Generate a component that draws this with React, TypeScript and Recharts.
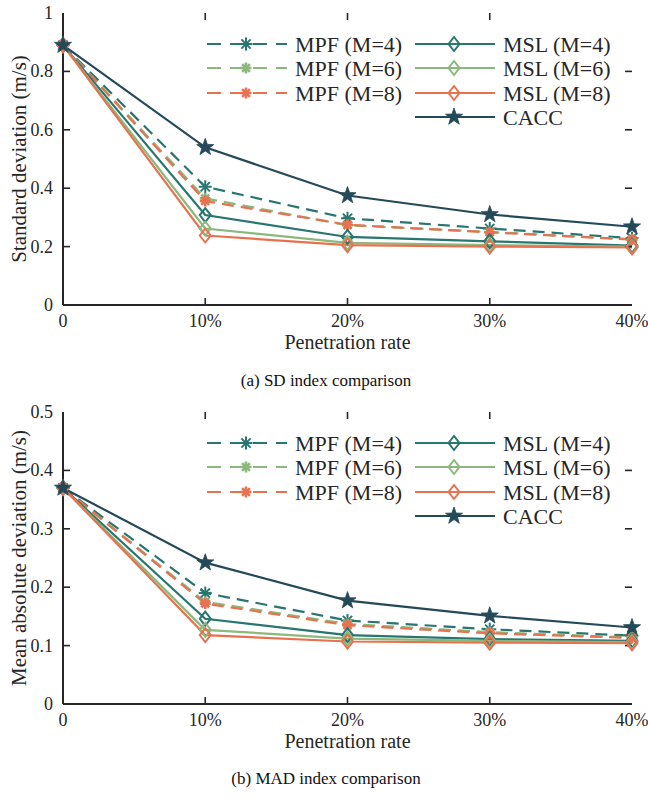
import React from 'react';
import { LineChart, Line, XAxis, YAxis, ReferenceDot } from 'recharts';

// penetration rate (%)
const rates = [0, 10, 20, 30, 40];

// (a) standard deviation, m/s
const sdMpf4 = [0.89, 0.405, 0.297, 0.262, 0.229];
const sdMpf6 = [0.89, 0.365, 0.273, 0.25, 0.225];
const sdMpf8 = [0.89, 0.356, 0.275, 0.249, 0.224];
const sdMsl4 = [0.89, 0.308, 0.233, 0.218, 0.203];
const sdMsl6 = [0.89, 0.262, 0.213, 0.205, 0.2];
const sdMsl8 = [0.89, 0.238, 0.205, 0.2, 0.197];
const sdCacc = [0.89, 0.54, 0.375, 0.31, 0.268];

// (b) mean absolute deviation, m/s
const madMpf4 = [0.37, 0.19, 0.143, 0.128, 0.117];
const madMpf6 = [0.37, 0.175, 0.137, 0.123, 0.114];
const madMpf8 = [0.37, 0.172, 0.135, 0.121, 0.113];
const madMsl4 = [0.37, 0.146, 0.118, 0.111, 0.108];
const madMsl6 = [0.37, 0.127, 0.112, 0.108, 0.106];
const madMsl8 = [0.37, 0.118, 0.107, 0.105, 0.104];
const madCacc = [0.37, 0.242, 0.177, 0.151, 0.131];

const sdTicks = [0, 0.2, 0.4, 0.6, 0.8, 1];
const madTicks = [0, 0.1, 0.2, 0.3, 0.4, 0.5];

const TEAL = '#287670';
const GREEN = '#8bb87d';
const ORANGE = '#e8714f';
const NAVY = '#244a5a';
const INK = '#262626';
const SERIF = "'Liberation Serif', 'DejaVu Serif', serif";
const TICK_LEN = 7;

type MarkerKind = 'asterisk' | 'asteriskBold' | 'diamond' | 'star';

const series: { key: string; name: string; color: string; dashed: boolean; marker: MarkerKind }[] = [
  { key: 'mpf4', name: 'MPF (M=4)', color: TEAL, dashed: true, marker: 'asterisk' },
  { key: 'mpf6', name: 'MPF (M=6)', color: GREEN, dashed: true, marker: 'asteriskBold' },
  { key: 'mpf8', name: 'MPF (M=8)', color: ORANGE, dashed: true, marker: 'asteriskBold' },
  { key: 'msl4', name: 'MSL (M=4)', color: TEAL, dashed: false, marker: 'diamond' },
  { key: 'msl6', name: 'MSL (M=6)', color: GREEN, dashed: false, marker: 'diamond' },
  { key: 'msl8', name: 'MSL (M=8)', color: ORANGE, dashed: false, marker: 'diamond' },
  { key: 'cacc', name: 'CACC', color: NAVY, dashed: false, marker: 'star' },
];

const sdData = rates.map((r, i) => ({
  rate: r, mpf4: sdMpf4[i], mpf6: sdMpf6[i], mpf8: sdMpf8[i],
  msl4: sdMsl4[i], msl6: sdMsl6[i], msl8: sdMsl8[i], cacc: sdCacc[i],
}));
const madData = rates.map((r, i) => ({
  rate: r, mpf4: madMpf4[i], mpf6: madMpf6[i], mpf8: madMpf8[i],
  msl4: madMsl4[i], msl6: madMsl6[i], msl8: madMsl8[i], cacc: madCacc[i],
}));

function marker(kind: MarkerKind, cx: number, cy: number, color: string, key?: string) {
  if (kind === 'asterisk' || kind === 'asteriskBold') {
    const r = kind === 'asterisk' ? 6.5 : 5.5;
    const d = r * 0.71;
    return (
      <g key={key} stroke={color} strokeWidth={kind === 'asterisk' ? 2 : 2.6}>
        <line x1={cx} y1={cy - r} x2={cx} y2={cy + r} />
        <line x1={cx - r} y1={cy} x2={cx + r} y2={cy} />
        <line x1={cx - d} y1={cy - d} x2={cx + d} y2={cy + d} />
        <line x1={cx - d} y1={cy + d} x2={cx + d} y2={cy - d} />
      </g>
    );
  }
  if (kind === 'diamond') {
    const pts = `${cx},${cy - 7} ${cx + 5.5},${cy} ${cx},${cy + 7} ${cx - 5.5},${cy}`;
    return <polygon key={key} points={pts} fill="none" stroke={color} strokeWidth={2} />;
  }
  const pts: string[] = [];
  for (let k = 0; k < 10; k++) {
    const rr = k % 2 === 0 ? 9 : 3.6;
    const a = -Math.PI / 2 + (k * Math.PI) / 5;
    pts.push(`${cx + rr * Math.cos(a)},${cy + rr * Math.sin(a)}`);
  }
  return <polygon key={key} points={pts.join(' ')} fill={color} stroke={color} strokeWidth={0.8} />;
}

function LegendBox({ top }: { top: number }) {
  const rowY = [14, 38, 63, 87];
  return (
    <svg width={430} height={104} style={{ position: 'absolute', left: 200, top }}>
      {series.map((s, i) => {
        const col = i < 3 ? 0 : 1;
        const row = i < 3 ? i : i - 3;
        const x0 = col === 0 ? 7 : 215;
        const y = rowY[row];
        return (
          <g key={s.key}>
            <line x1={x0} y1={y} x2={x0 + 80} y2={y} stroke={s.color} strokeWidth={2}
              strokeDasharray={s.dashed ? '14 9' : undefined} />
            {marker(s.marker, x0 + 39, y, s.color)}
            <text x={x0 + 88} y={y} dominantBaseline="central" style={{ fontFamily: SERIF, fontSize: 22 }} fill={INK}>
              {s.name}
            </text>
          </g>
        );
      })}
    </svg>
  );
}

const textStyle = { fontFamily: SERIF, fontSize: 18 };

const LeftTick = (p: any) => (
  <text x={p.x} y={p.y} textAnchor="end" dominantBaseline="central" fill={INK} style={textStyle}>
    {String(p.payload.value)}
  </text>
);
const BottomTick = (p: any) => (
  <text x={p.x} y={p.y} dy="0.75em" textAnchor="middle" fill={INK} style={textStyle}>
    {p.payload.value === 0 ? '0' : `${p.payload.value}%`}
  </text>
);

// inward tick mark, direction given as [dx, dy]
const tickMark = (dx: number, dy: number) => (p: any) => (
  <path d={`M${p.cx},${p.cy}l${dx * TICK_LEN},${dy * TICK_LEN}`} stroke={INK} strokeWidth={1.6} fill="none" />
);

function Panel({ data, ticks, ymax, ylabel }: { data: any[]; ticks: number[]; ymax: number; ylabel: string }) {
  const axisLine = { stroke: INK, strokeWidth: 2 };
  const xEnd = rates[rates.length - 1];
  return (
    <LineChart width={648} height={360} data={data} margin={{ top: 13, right: 16, left: 0, bottom: 0 }}
      style={{ fontFamily: SERIF }}>
      <XAxis dataKey="rate" type="number" domain={[0, xEnd]} ticks={rates}
        height={55} tickSize={0} tickMargin={8} tick={BottomTick} tickLine={false} axisLine={axisLine}
        label={{ value: 'Penetration rate', position: 'insideBottom', offset: 11, fill: INK, fontSize: 20, style: { fontFamily: SERIF } }} />
      <XAxis xAxisId="top" orientation="top" dataKey="rate" type="number" domain={[0, xEnd]} ticks={rates}
        allowDataOverflow height={0} tick={false} tickLine={false} axisLine={axisLine} />
      <YAxis type="number" domain={[0, ymax]} ticks={ticks} width={63}
        tickSize={0} tickMargin={10} tick={LeftTick} tickLine={false} axisLine={axisLine}
        label={{ value: ylabel, angle: -90, position: 'insideLeft', offset: 19, fill: INK, fontSize: 21, style: { textAnchor: 'middle', fontFamily: SERIF } }} />
      <YAxis yAxisId="right" orientation="right" type="number" domain={[0, ymax]} ticks={ticks}
        allowDataOverflow width={0} tick={false} tickLine={false} axisLine={axisLine} />
      {ticks.slice(1, -1).map((v) => (
        <ReferenceDot key={`l${v}`} x={0} y={v} r={0} ifOverflow="visible" shape={tickMark(1, 0)} />
      ))}
      {ticks.slice(1, -1).map((v) => (
        <ReferenceDot key={`r${v}`} x={xEnd} y={v} r={0} ifOverflow="visible" shape={tickMark(-1, 0)} />
      ))}
      {rates.slice(1, -1).map((r) => (
        <ReferenceDot key={`b${r}`} x={r} y={0} r={0} ifOverflow="visible" shape={tickMark(0, -1)} />
      ))}
      {rates.slice(1, -1).map((r) => (
        <ReferenceDot key={`t${r}`} x={r} y={ymax} r={0} ifOverflow="visible" shape={tickMark(0, 1)} />
      ))}
      {series.map((s) => (
        <Line key={s.key} dataKey={s.key} name={s.name} stroke={s.color} strokeWidth={2.2}
          strokeDasharray={s.dashed ? '12 7' : undefined} isAnimationActive={false} activeDot={false}
          dot={(p: any) => marker(s.marker, p.cx, p.cy, s.color, `${s.key}-${p.index}`)} />
      ))}
    </LineChart>
  );
}

export default function App() {
  const caption = { position: 'absolute' as const, left: 0, width: 652, textAlign: 'center' as const,
    fontFamily: SERIF, fontSize: 17, color: '#111' };
  return (
    <div style={{ position: 'absolute', left: 0, top: 0, width: 648, height: 798, background: '#fff' }}>
      <div style={{ position: 'absolute', left: 0, top: 0 }}>
        <Panel data={sdData} ticks={sdTicks} ymax={1} ylabel="Standard deviation (m/s)" />
      </div>
      <LegendBox top={30} />
      <div style={{ ...caption, top: 371 }}>(a) SD index comparison</div>
      <div style={{ position: 'absolute', left: 0, top: 399 }}>
        <Panel data={madData} ticks={madTicks} ymax={0.5} ylabel="Mean absolute deviation (m/s)" />
      </div>
      <LegendBox top={429} />
      <div style={{ ...caption, top: 769 }}>(b) MAD index comparison</div>
    </div>
  );
}
